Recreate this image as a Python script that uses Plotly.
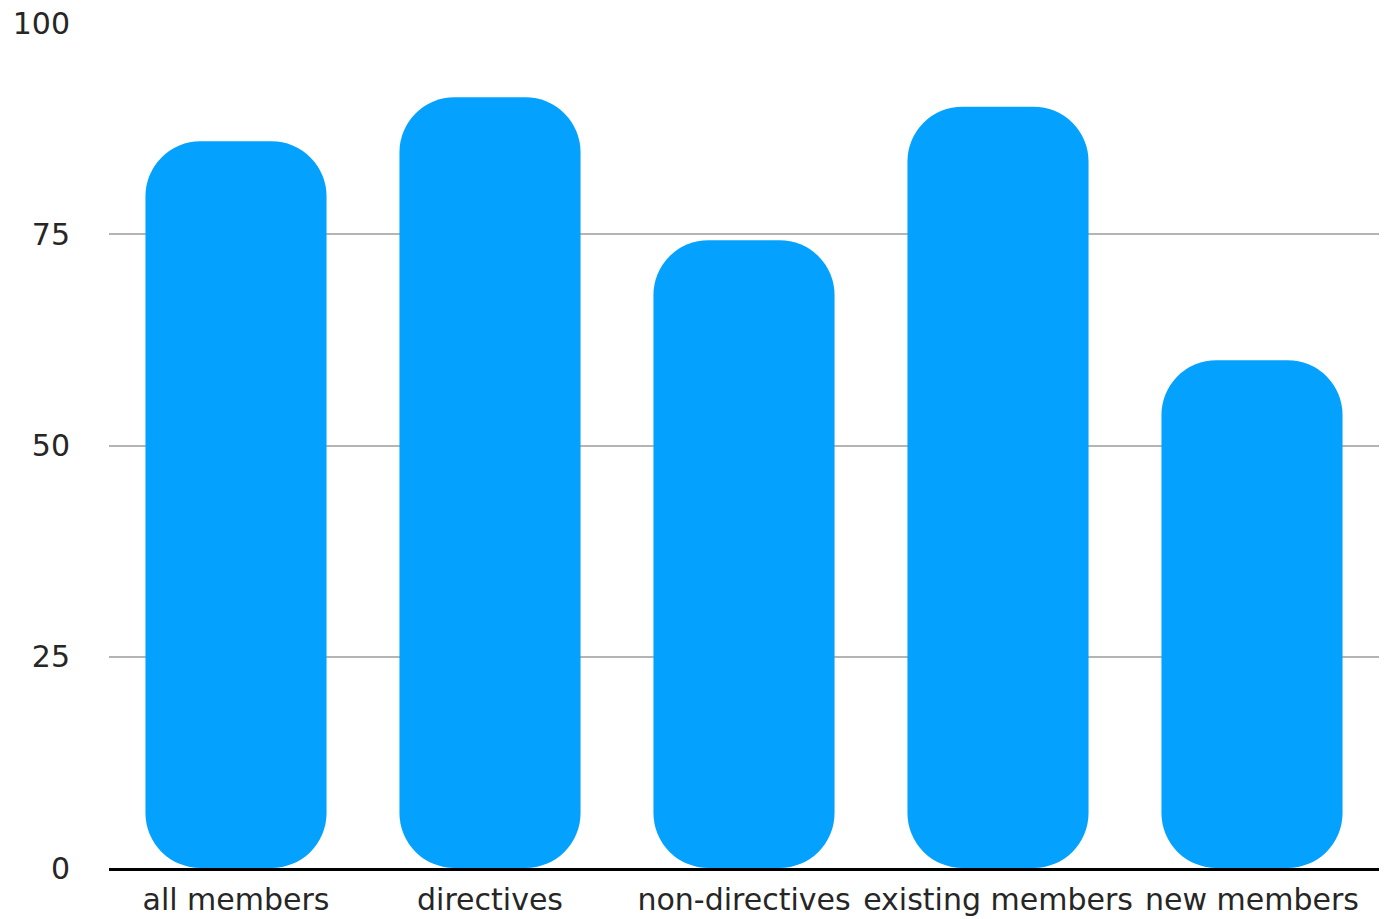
import plotly.graph_objects as go

categories = ["all members", "directives", "non-directives", "existing members", "new members"]
values = [86, 91.2, 74.3, 90.1, 60.1]
bases = [0, 0, 0, 0, 0]
y_ticks = [0, 25, 50, 75, 100]

BAR_COLOR = "#04a2fe"
RADIUS = 55

fig = go.Figure()
# bars with an explicit base: plotly rounds both ends
fig.add_trace(go.Bar(x=categories, y=values, base=bases,
                     marker=dict(color=BAR_COLOR, cornerradius=RADIUS, line=dict(width=0)),
                     hoverinfo="skip", showlegend=False))

fig.update_layout(
    width=1384, height=919,
    margin=dict(l=109, r=5, t=23, b=51),
    bargap=0.287,
    plot_bgcolor="white",
    paper_bgcolor="white",
    font=dict(family="DejaVu Sans, sans-serif", size=30, color="#262626"),
)
fig.update_xaxes(showline=True, linecolor="black", linewidth=3, showgrid=False, ticks="",
                 automargin=False, ticklabelstandoff=3, tickfont=dict(size=30))
fig.update_yaxes(range=[0, 100], tickvals=y_ticks, ticktext=[str(t) for t in y_ticks],
                 showgrid=True, gridcolor="#b4b4b4", gridwidth=2, zeroline=False, automargin=False,
                 showline=False, ticks="", ticklabelstandoff=38, tickfont=dict(size=30))

fig.write_html("out.html")
